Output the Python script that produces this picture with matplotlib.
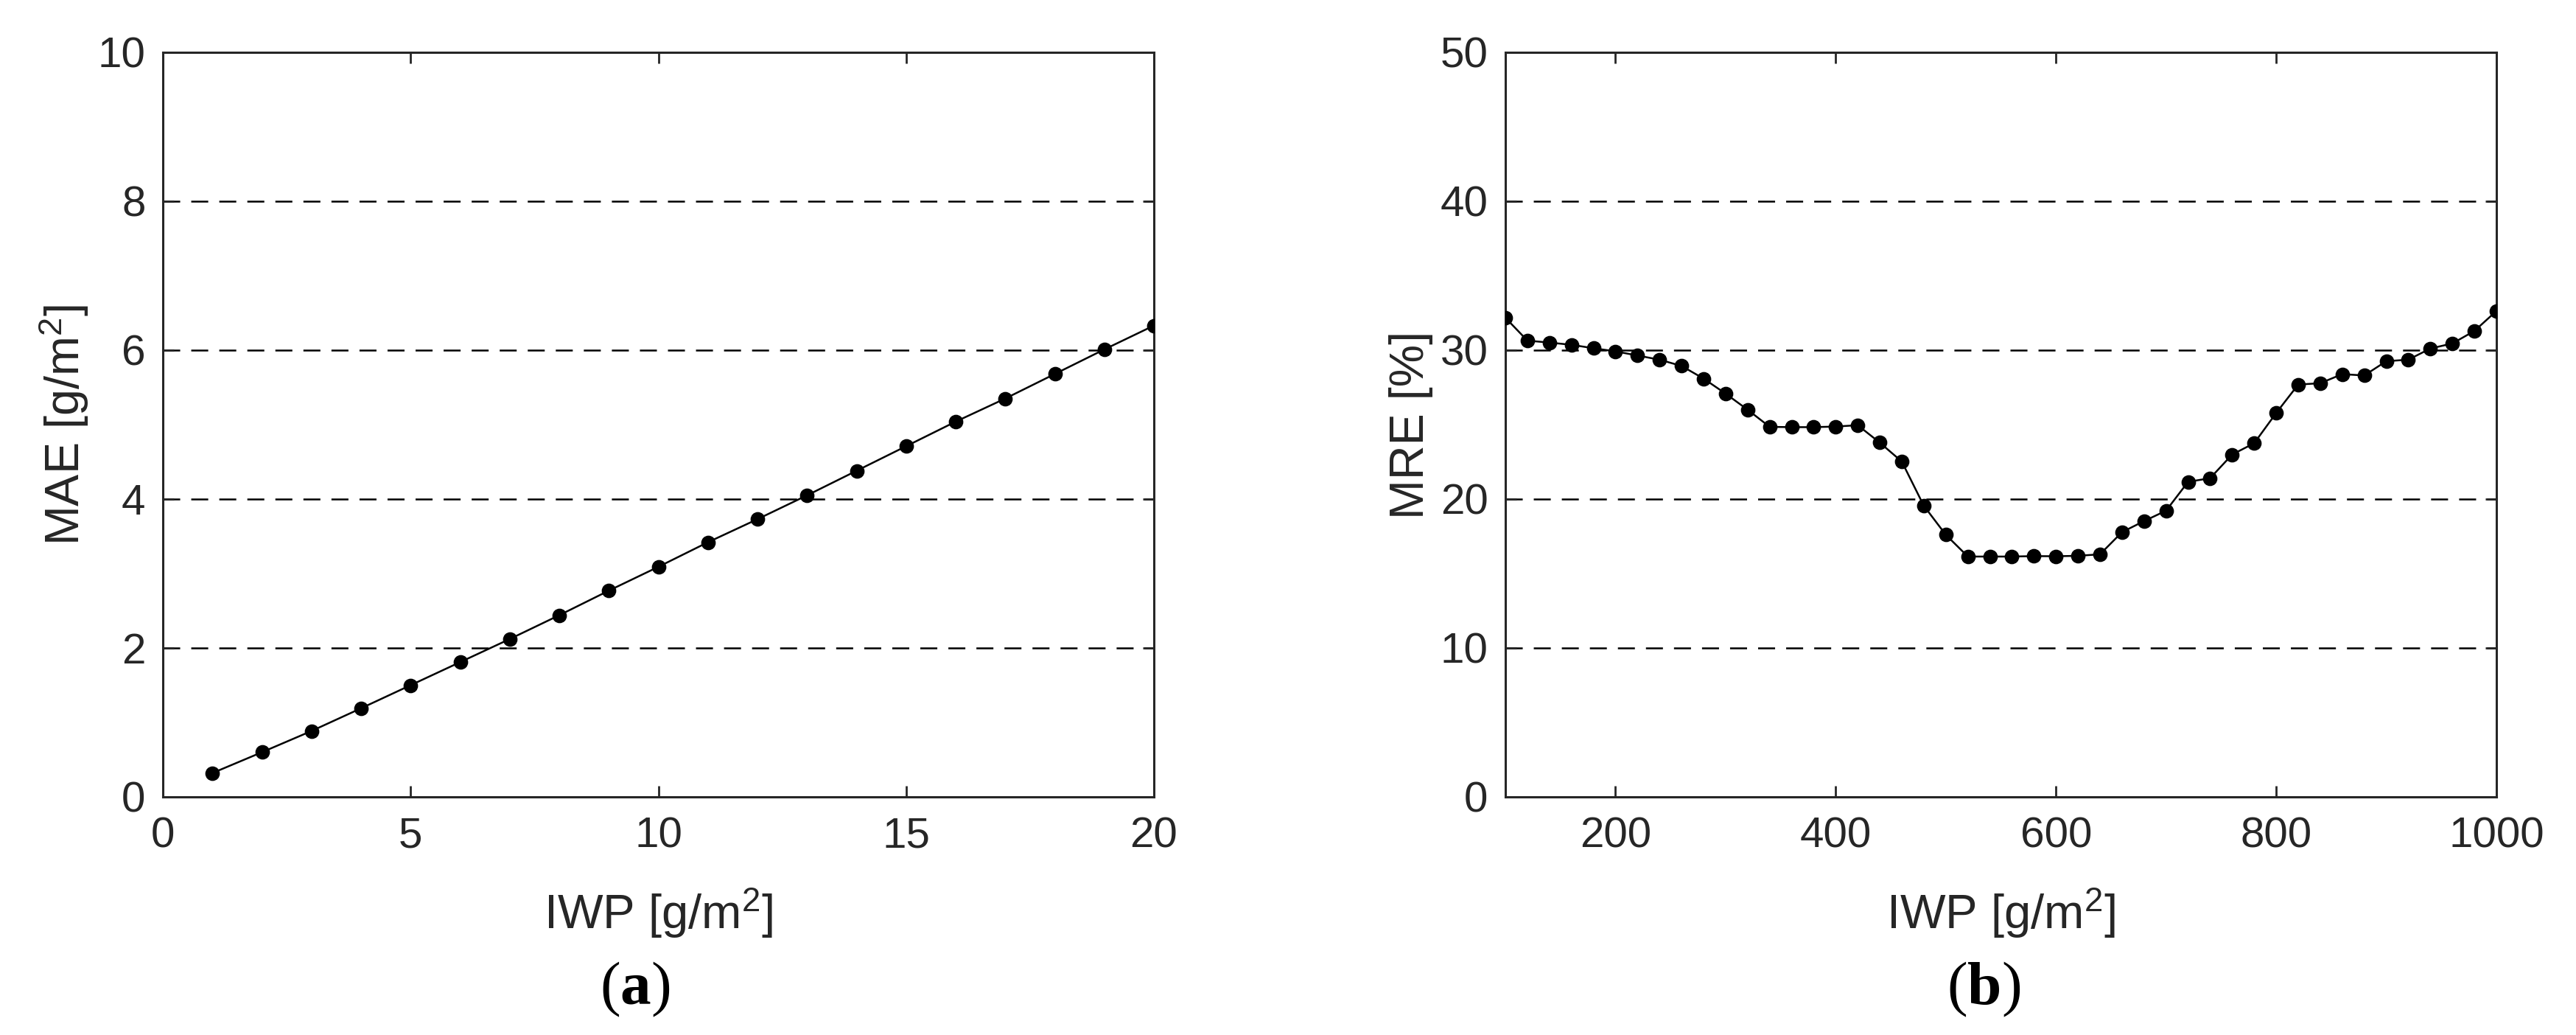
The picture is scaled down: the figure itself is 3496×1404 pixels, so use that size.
import matplotlib
matplotlib.use("Agg")
import matplotlib.pyplot as plt

# panel (a): MAE vs IWP (small IWP)
iwp_a = list(range(1, 21))
mae = [0.32, 0.60, 0.885, 1.19, 1.50, 1.81, 2.12, 2.44, 2.77, 3.09,
       3.42, 3.73, 4.05, 4.38, 4.71, 5.04, 5.35, 5.68, 6.01, 6.33]

# panel (b): MRE vs IWP (large IWP)
iwp_b = list(range(100, 1001, 20))
mre = [32.18, 30.64, 30.51, 30.36, 30.13, 29.92, 29.64, 29.36, 28.94, 28.09,
       27.08, 26.0, 24.85, 24.83, 24.83, 24.87, 24.96, 23.79, 22.52, 19.55,
       17.6, 16.14, 16.14, 16.14, 16.17, 16.16, 16.19, 16.29, 17.78, 18.52,
       19.22, 21.16, 21.4, 22.99, 23.75, 25.78, 27.69, 27.78, 28.39, 28.30,
       29.26, 29.36, 30.11, 30.45, 31.29, 32.63]

xticks_a = [0, 5, 10, 15, 20]
yticks_a = [0, 2, 4, 6, 8, 10]
xticks_b = [200, 400, 600, 800, 1000]
yticks_b = [0, 10, 20, 30, 40, 50]

plt.rcParams["font.family"] = ["Liberation Sans", "DejaVu Sans"]
plt.rcParams["mathtext.fontset"] = "custom"
plt.rcParams["mathtext.rm"] = "Liberation Sans"
plt.rcParams["mathtext.bf"] = "Liberation Serif:bold"
plt.rcParams["mathtext.default"] = "regular"
plt.rcParams["lines.scale_dashes"] = False

TXT = "#262626"
W, H = 3496, 1404
fig = plt.figure(figsize=(W / 200, H / 200), dpi=200)


def panel(left_px, x, y, xlim, ylim, xt, yt, ylab, tag, tag_x):
    ax = fig.add_axes([left_px / W, 1 - 1081 / H, 1345 / W, 1010 / H])
    for yv in yt[1:-1]:
        ax.axhline(yv, color="black", lw=0.9, dashes=(8.3, 5.4), zorder=1)
    ax.plot(x, y, color="black", lw=0.9, marker="o", ms=6.1, zorder=3)
    ax.set_xlim(*xlim)
    ax.set_ylim(*ylim)
    ax.set_xticks(xt)
    ax.set_yticks(yt)
    ax.tick_params(direction="in", top=True, right=True, length=5.5, width=1.0,
                   color=TXT, labelcolor=TXT, labelsize=21)
    ax.tick_params(axis="x", pad=9.5)
    ax.tick_params(axis="y", pad=8.5)
    for s in ax.spines.values():
        s.set_color(TXT)
        s.set_linewidth(1.1)
    ax.set_ylabel(ylab, fontsize=23.3, color=TXT)
    ax.yaxis.set_label_coords(-0.073, 0.5)
    cx = (left_px + 1345 / 2) / W
    fig.text(cx, 1 - 1260 / H, r"IWP [g/m$^{2}$]", fontsize=23.5, color=TXT,
             ha="center", va="baseline")
    fig.text(tag_x / W, 1 - 1362 / H, tag, fontsize=30, color="black",
             family=["Liberation Serif", "DejaVu Serif"], ha="center", va="baseline")
    return ax


panel(221, iwp_a, mae, (0, 20), (0, 10), xticks_a, yticks_a,
      r"MAE [g/m$^{2}$]", r"($\mathbf{a}$)", 862)
panel(2043, iwp_b, mre, (100, 1000), (0, 50), xticks_b, yticks_b,
      "MRE [%]", r"($\mathbf{b}$)", 2692)

fig.savefig("out.png", dpi=200)
